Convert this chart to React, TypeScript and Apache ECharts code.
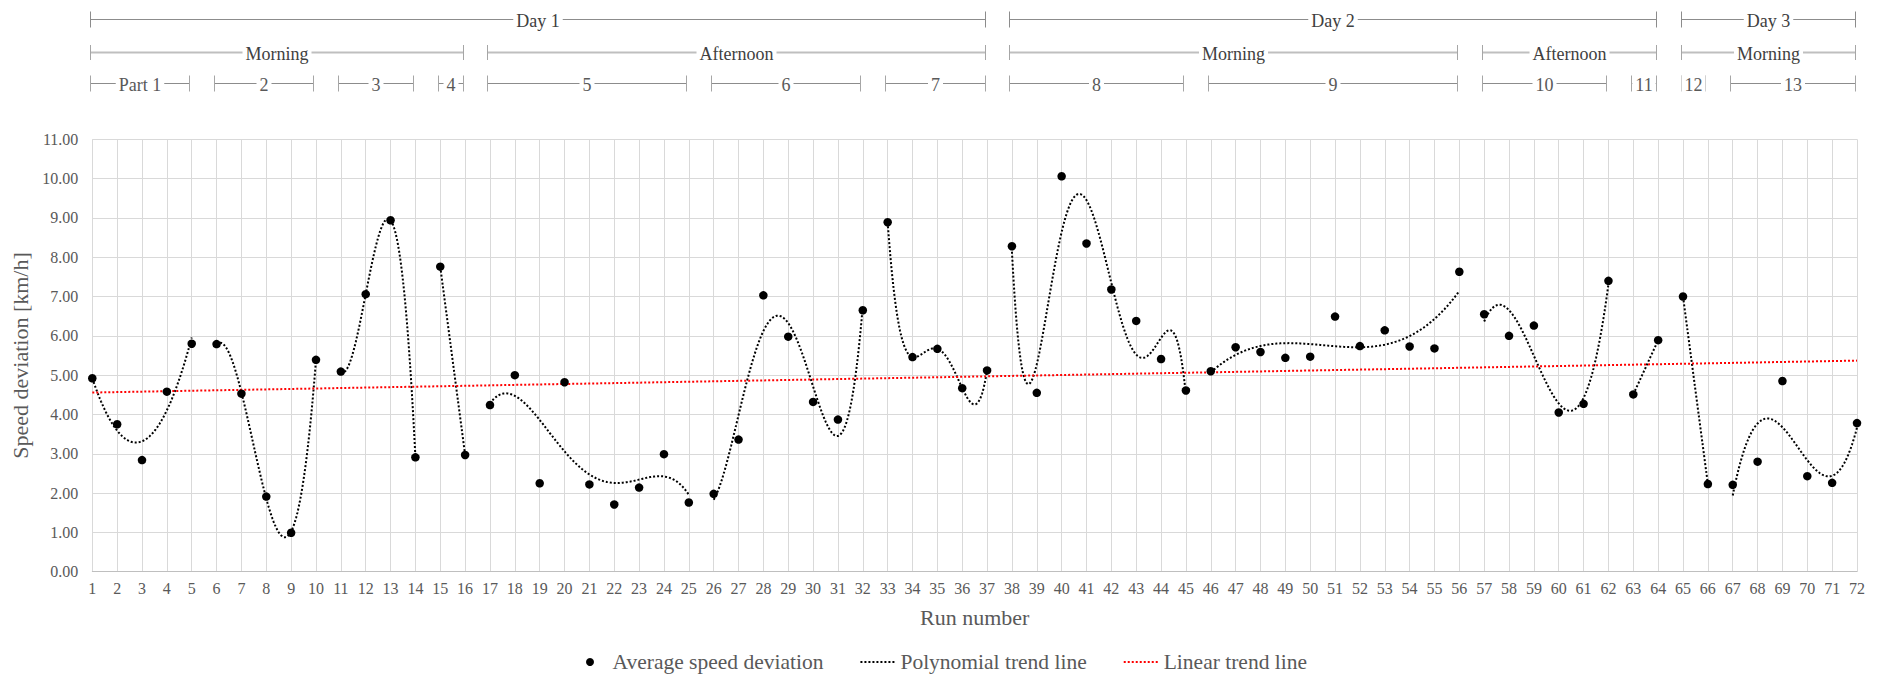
import { useEffect, useRef } from 'react';
import * as echarts from 'echarts';

// Average speed deviation per run [km/h], runs 1..72
const speedDeviation = [
  4.92, 3.75, 2.84, 4.58, 5.80, 5.79, 4.53, 1.91, 0.99, 5.39,
  5.09, 7.06, 8.94, 2.91, 7.76, 2.97, 4.24, 5.00, 2.25, 4.82,
  2.22, 1.71, 2.14, 2.99, 1.76, 1.98, 3.36, 7.03, 5.98, 4.32,
  3.87, 6.65, 8.89, 5.46, 5.67, 4.67, 5.12, 8.28, 4.55, 10.06,
  8.35, 7.18, 6.38, 5.41, 4.61, 5.10, 5.71, 5.59, 5.44, 5.47,
  6.49, 5.74, 6.14, 5.73, 5.68, 7.63, 6.55, 6.00, 6.26, 4.05,
  4.27, 7.40, 4.51, 5.89, 7.00, 2.23, 2.21, 2.80, 4.85, 2.43,
  2.26, 3.78,
];

// Measurement parts (first and last run) and the order of each part's polynomial trend
const partLabels = ['Part 1', '2', '3', '4', '5', '6', '7', '8', '9', '10', '11', '12', '13'];
const partStart = [1, 6, 11, 15, 17, 26, 33, 38, 46, 57, 63, 65, 67];
const partEnd = [5, 10, 14, 16, 25, 32, 37, 45, 56, 62, 64, 66, 72];
const partTrendOrder = [2, 3, 3, 1, 4, 4, 4, 5, 3, 3, 1, 1, 3];

const periodLabels = ['Morning', 'Afternoon', 'Morning', 'Afternoon', 'Morning'];
const periodStart = [1, 17, 38, 57, 65];
const periodEnd = [16, 37, 56, 64, 72];

const dayLabels = ['Day 1', 'Day 2', 'Day 3'];
const dayStart = [1, 38, 65];
const dayEnd = [37, 64, 72];

const yTicks = { min: 0, max: 11, step: 1 };

const SERIF = "'Liberation Serif', 'Times New Roman', serif";
const TEXT = '#595959';

// Least-squares polynomial fit; returns an evaluator
function polyFit(xs: number[], ys: number[], order: number) {
  const n = xs.length;
  const mean = xs.reduce((a, b) => a + b, 0) / n;
  const m = order + 1;
  const A: number[][] = Array.from({ length: m }, () => new Array(m + 1).fill(0));
  for (let k = 0; k < n; k++) {
    const u = xs[k] - mean;
    const pw = [1];
    for (let j = 1; j < 2 * m; j++) pw.push(pw[j - 1] * u);
    for (let r = 0; r < m; r++) {
      for (let c = 0; c < m; c++) A[r][c] += pw[r + c];
      A[r][m] += pw[r] * ys[k];
    }
  }
  for (let i = 0; i < m; i++) {
    let p = i;
    for (let r = i + 1; r < m; r++) if (Math.abs(A[r][i]) > Math.abs(A[p][i])) p = r;
    [A[i], A[p]] = [A[p], A[i]];
    for (let r = 0; r < m; r++) {
      if (r === i) continue;
      const f = A[r][i] / A[i][i];
      for (let c = i; c <= m; c++) A[r][c] -= f * A[i][c];
    }
  }
  const coef = A.map((row, i) => row[m] / row[i]);
  return (x: number) => {
    const u = x - mean;
    let s = 0;
    let p = 1;
    for (const c of coef) {
      s += c * p;
      p *= u;
    }
    return s;
  };
}

const runOf = (i: number) => i + 1;

export default function App() {
  const ref = useRef<HTMLDivElement>(null);

  useEffect(() => {
    if (!ref.current) return;
    const chart = echarts.init(ref.current, undefined, { renderer: 'svg' });

    const points = speedDeviation.map((v, i) => [runOf(i), v]);

    const partSeries = partStart.map((s, k) => {
      const e = partEnd[k];
      const xs: number[] = [];
      const ys: number[] = [];
      for (let r = s; r <= e; r++) {
        xs.push(r);
        ys.push(speedDeviation[r - 1]);
      }
      const f = polyFit(xs, ys, partTrendOrder[k]);
      const data: number[][] = [];
      const steps = Math.round((e - s) / 0.05);
      for (let j = 0; j <= steps; j++) {
        const x = s + ((e - s) * j) / steps;
        data.push([x, f(x)]);
      }
      return {
        name: 'Polynomial trend line',
        type: 'line',
        data,
        showSymbol: false,
        symbol: 'none',
        silent: true,
        z: 3,
        lineStyle: { color: '#000', width: 2, type: [2, 2] },
        itemStyle: { color: '#000' },
      };
    });

    const allRuns = speedDeviation.map((_, i) => runOf(i));
    const lin = polyFit(allRuns, speedDeviation, 1);
    const first = allRuns[0];
    const last = allRuns[allRuns.length - 1];

    chart.setOption({
      animation: false,
      grid: { left: 92.3, right: 31, top: 139.3, bottom: 104.3, containLabel: false },
      legend: {
        data: [
          { name: 'Average speed deviation' },
          { name: 'Polynomial trend line', itemStyle: { opacity: 0 } },
          { name: 'Linear trend line', itemStyle: { opacity: 0 } },
        ],
        left: 581,
        top: 646,
        itemWidth: 35,
        itemHeight: 8,
        itemGap: 36,
        selectedMode: false,
        textStyle: { fontFamily: SERIF, fontSize: 21.5, color: TEXT },
      },
      xAxis: {
        type: 'value',
        min: 1,
        max: 72,
        interval: 1,
        name: 'Run number',
        nameLocation: 'middle',
        nameGap: 35,
        nameTextStyle: { fontFamily: SERIF, fontSize: 22, color: TEXT },
        axisLine: { show: true, lineStyle: { color: '#bfbfbf', width: 1 } },
        axisTick: { show: false },
        axisLabel: { fontFamily: SERIF, fontSize: 16, color: TEXT, margin: 9 },
        splitLine: { show: true, lineStyle: { color: '#d9d9d9', width: 1 } },
      },
      yAxis: {
        type: 'value',
        min: yTicks.min,
        max: yTicks.max,
        interval: yTicks.step,
        name: 'Speed deviation [km/h]',
        nameLocation: 'middle',
        nameGap: 58,
        nameTextStyle: { fontFamily: SERIF, fontSize: 22, color: TEXT },
        axisLine: { show: false },
        axisTick: { show: false },
        axisLabel: {
          fontFamily: SERIF,
          fontSize: 16,
          color: TEXT,
          margin: 14,
          formatter: (v: number) => v.toFixed(2),
        },
        splitLine: { show: true, lineStyle: { color: '#d9d9d9', width: 1 } },
      },
      series: [
        ...partSeries,
        {
          name: 'Linear trend line',
          type: 'line',
          data: [
            [first, lin(first)],
            [last, lin(last)],
          ],
          showSymbol: false,
          symbol: 'none',
          silent: true,
          z: 3,
          lineStyle: { color: '#ff0000', width: 2, type: [2, 2] },
          itemStyle: { color: '#ff0000' },
        },
        {
          name: 'Average speed deviation',
          type: 'scatter',
          data: points,
          symbol: 'circle',
          symbolSize: 8.5,
          z: 5,
          itemStyle: { color: '#000', opacity: 1 },
        },
      ],
    });

    // Bracket rows above the plot: days, periods and parts
    const px = (run: number) => (chart.convertToPixel({ xAxisIndex: 0 }, run) as number) - 2.5;
    const graphics: any[] = [];
    const bracket = (
      label: string,
      a: number,
      b: number,
      y: number,
      half: number,
      stroke: string,
      width: number,
      tickStroke: string,
      fill: string,
    ) => {
      const x1 = Math.round(px(a)) + 0.5;
      const x2 = Math.round(px(b)) + 0.5;
      graphics.push({
        type: 'line',
        silent: true,
        shape: { x1, y1: y, x2, y2: y },
        style: { stroke, lineWidth: width },
        z: 1,
      });
      graphics.push({
        type: 'line',
        silent: true,
        shape: { x1, y1: y - half, x2: x1, y2: y + half },
        style: { stroke: tickStroke, lineWidth: 1 },
        z: 1,
      });
      graphics.push({
        type: 'line',
        silent: true,
        shape: { x1: x2, y1: y - half, x2, y2: y + half },
        style: { stroke: tickStroke, lineWidth: 1 },
        z: 1,
      });
      graphics.push({
        type: 'text',
        silent: true,
        x: (x1 + x2) / 2,
        y: y + 1,
        z: 2,
        style: {
          text: label,
          align: 'center',
          verticalAlign: 'middle',
          fontFamily: SERIF,
          fontSize: 18,
          fill,
          backgroundColor: '#fff',
          padding: [0, 3],
        },
      });
    };

    dayLabels.forEach((l, i) =>
      bracket(l, dayStart[i], dayEnd[i], 19.5, 8, '#8c8c8c', 1, '#8c8c8c', '#404040'),
    );
    periodLabels.forEach((l, i) =>
      bracket(l, periodStart[i], periodEnd[i], 52.5, 7.5, '#bfbfbf', 2, '#a6a6a6', '#404040'),
    );
    partLabels.forEach((l, i) =>
      bracket(l, partStart[i], partEnd[i], 83.5, 8, '#8c8c8c', 1, '#a6a6a6', TEXT),
    );

    chart.setOption({ graphic: graphics });

    return () => chart.dispose();
  }, []);

  return (
    <div
      ref={ref}
      style={{ position: 'fixed', left: 0, top: 0, width: '1888px', height: '676px', background: '#fff' }}
    />
  );
}
